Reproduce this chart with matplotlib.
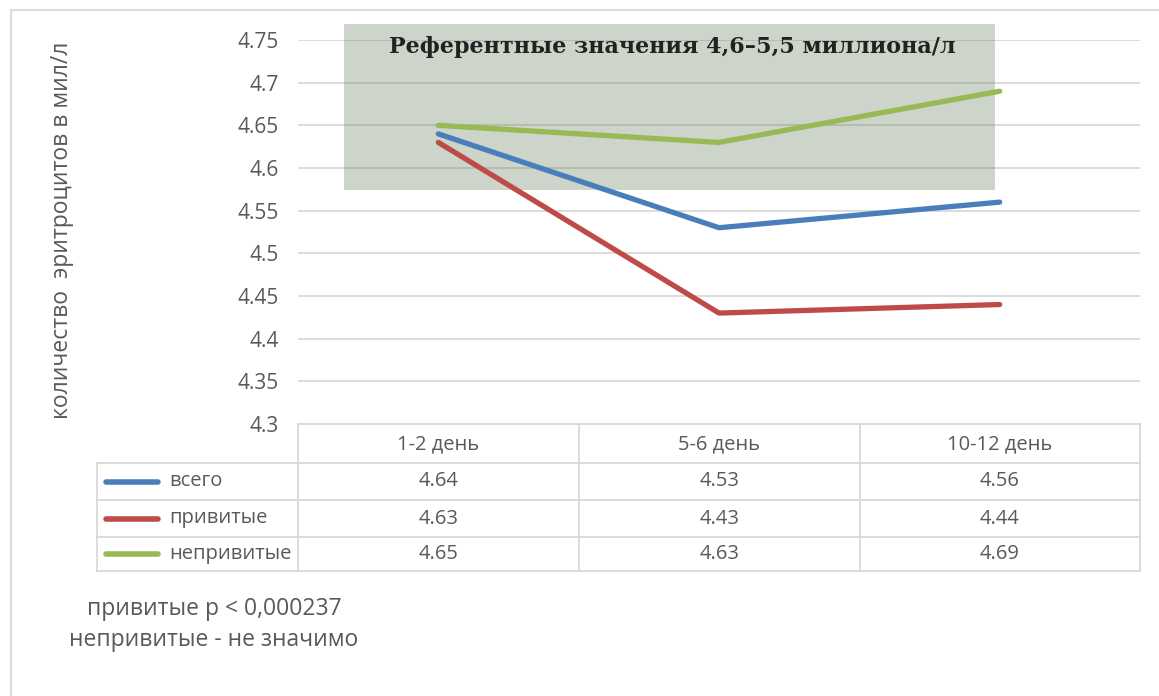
import matplotlib
matplotlib.use("Agg")
import matplotlib.pyplot as plt
from matplotlib.patches import Rectangle
from matplotlib.lines import Line2D

# Data
categories = ["1-2 день", "5-6 день", "10-12 день"]
series_names = ["всего", "привитые", "непривитые"]
vsego = [4.64, 4.53, 4.56]
privitye = [4.63, 4.43, 4.44]
neprivitye = [4.65, 4.63, 4.69]
yticks = [4.3, 4.35, 4.4, 4.45, 4.5, 4.55, 4.6, 4.65, 4.7, 4.75]
ref_low, ref_high = 4.574, 4.769
ref_label = "Референтные значения 4,6\u20135,5 миллиона/л"
ylabel = "количество  эритроцитов в мил/л"
note_lines = ["привитые р < 0,000237", "непривитые - не значимо"]

colors = ["#4a7ebb", "#be4b48", "#98b954"]
series = [vsego, privitye, neprivitye]
text_col = "#595959"
grid_col = "#d9d9d9"
font = ["Open Sans", "DejaVu Sans"]
plt.rcParams["font.family"] = font

W, H = 1159, 696
fig = plt.figure(figsize=(W / 100, H / 100), dpi=100)

def fx(px):
    return px / W

def fy(py):
    return 1 - py / H

# outer frame (top and left edges)
fig.add_artist(Line2D([fx(11), fx(1159)], [fy(10), fy(10)], color="#dcdcdc", lw=1.5))
fig.add_artist(Line2D([fx(11), fx(11)], [fy(10), fy(696)], color="#dcdcdc", lw=1.5))

# main plot area
x0, x1, ytop, ybot = 298, 1140, 40, 424
ax = fig.add_axes([fx(x0), fy(ybot), fx(x1) - fx(x0), fy(ytop) - fy(ybot)])
ax.set_xlim(-0.5, 2.5)
ax.set_ylim(4.3, 4.75)
for s in ax.spines.values():
    s.set_visible(False)
ax.set_xticks([])
ax.set_yticks(yticks)
ax.set_yticklabels([f"{t:g}" for t in yticks], fontsize=15, color=text_col)
ax.tick_params(axis="y", length=0, pad=14)
for t in yticks[1:]:
    ax.axhline(t, color=grid_col, lw=1.3, zorder=1)

# reference range band (translucent so gridlines show through darker)
ax.add_patch(Rectangle((-0.335, ref_low), 1.335 + 0.985, ref_high - ref_low,
                       facecolor=(0.36, 0.45, 0.30), alpha=0.3, edgecolor="none",
                       zorder=2, clip_on=False))
ax.text(0.833, 4.742, ref_label, ha="center", va="center", fontsize=16,
        family=["DejaVu Serif"], weight="bold", color="#222222", zorder=4)

xs = list(range(len(categories)))
for vals, c in zip(series, colors):
    ax.plot(xs, vals, color=c, lw=3.8, solid_capstyle="round", zorder=3)

fig.text(fx(62), fy(230), ylabel, rotation=90, ha="center", va="center",
         fontsize=16.5, color=text_col)

# data table below the plot
tab = fig.add_axes([0, 0, 1, 1])
tab.set_xlim(0, W)
tab.set_ylim(H, 0)
tab.axis("off")
tab.patch.set_alpha(0)
col_edges = [298, 579, 860, 1140]
row_edges = [424, 463, 500, 537, 571]
lc = "#d9d9d9"
tab.plot([298, 1140], [424, 424], color=lc, lw=1.3)
for xe in col_edges:
    tab.plot([xe, xe], [424, 571], color=lc, lw=1.3)
tab.plot([97, 97], [463, 571], color=lc, lw=1.3)
for ye in row_edges[1:]:
    tab.plot([97, 1140], [ye, ye], color=lc, lw=1.3)
for i, cat in enumerate(categories):
    tab.text((col_edges[i] + col_edges[i + 1]) / 2, 444, cat, ha="center",
             va="center", fontsize=14.5, color=text_col)
for r, (name, vals, c) in enumerate(zip(series_names, series, colors)):
    yc = (row_edges[r + 1] + row_edges[r + 2]) / 2
    tab.plot([106, 158], [yc, yc], color=c, lw=4, solid_capstyle="round")
    tab.text(169, yc, name, ha="left", va="center", fontsize=14.5, color=text_col)
    for i, v in enumerate(vals):
        tab.text((col_edges[i] + col_edges[i + 1]) / 2, yc, f"{v:.2f}",
                 ha="center", va="center", fontsize=14.5, color=text_col)

tab.text(214, 609, note_lines[0], ha="center", va="center", fontsize=16.5, color=text_col)
tab.text(214, 640, note_lines[1], ha="center", va="center", fontsize=16.5, color=text_col)

fig.savefig("out.png", dpi=100)
